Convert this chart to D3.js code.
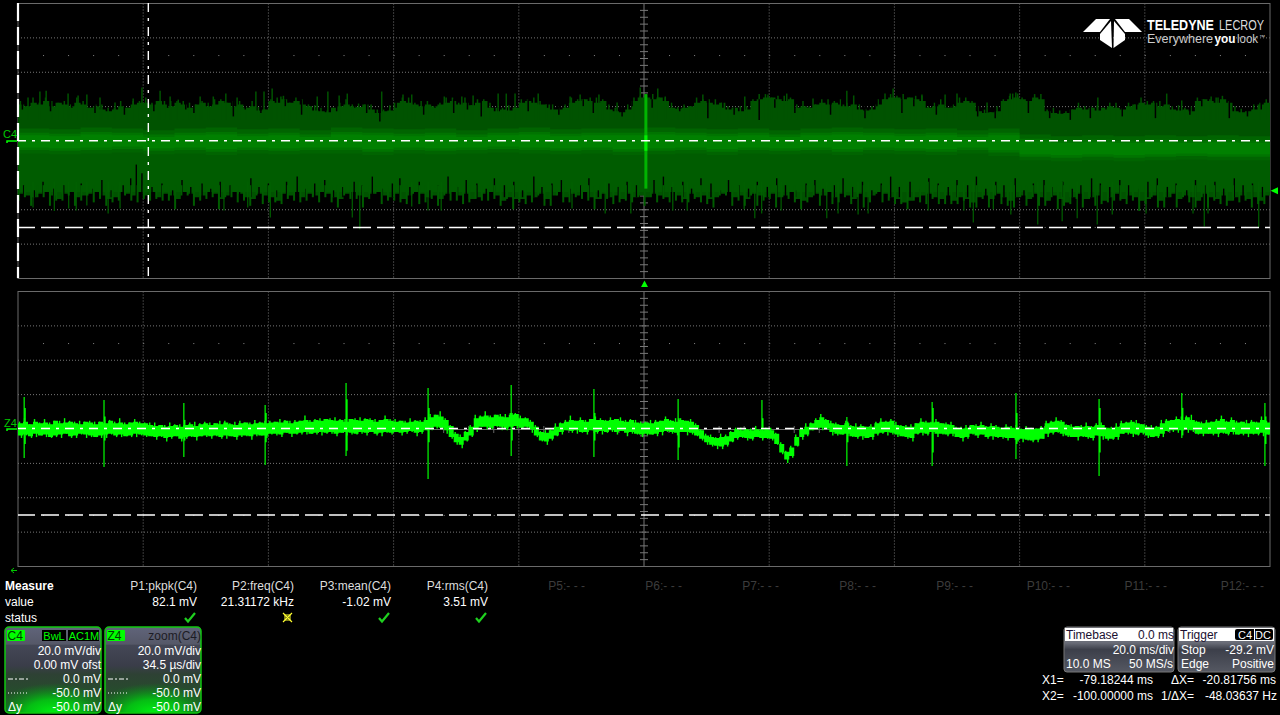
<!DOCTYPE html>
<html>
<head>
<meta charset="utf-8">
<style>
html,body{margin:0;padding:0;background:#000;overflow:hidden}
svg{display:block}
text{font-family:"Liberation Sans",Arial,sans-serif;font-size:12px}
</style>
<script src="https://cdn.jsdelivr.net/npm/d3@7"></script>
</head>
<body>
<div id="scope"></div>
<script>
// C4 envelope in mV, one sample per ms from -100 ms
var c4Hi = [
21,20,22,21,23,20,22,21,20,22,21,19,20,18,17,18,20,19,21,22,
22,21,23,21,20,22,21,19,21,22,20,21,23,22,20,21,19,20,17.5,18,
23,22,24,22,23,21,20,17.5,17,16.5,19,20,21,20,19.5,21,18,16,17,17.5,
22,23,22,21,20,21,20,21,22,23,21,22,20.5,22,23,19,17,18,17.5,19,
22,23,22,21,21,18,18,19,22,23,24,23,22,23,18,17,16.5,18,23,25,
25,24,25,23,19,18.5,19,20,22,23,22,21,22,18,19,17,18,23,24,25,
25,24,23,24,19,20,19,21,22,21,22,21,20,21,18,17.5,18,21,24,25,
25,24,25,24,23,19,20,21,19,20,22,23,22,17,16,16.5,17,23,24,25,
24,23,25,24,17,16,15.5,16,18,19,18,19,17.5,19,20,19,18,20,21,22,
21,22,20,21,18,17.5,18,17,23,24,23,22,24,22,17,16.5,17,18,21,22];
var c4Lo = [
-31,-32,-33,-31,-30,-32,-34,-31,-30,-33,-32,-31,-30,-32,-34,-33,-30,-31,-32,-30,
-32,-30,-33,-31,-32,-34,-30,-31,-33,-32,-30,-31,-34,-32,-30,-31,-33,-34,-31,-32,
-33,-35,-31,-32,-30,-33,-31,-32,-30,-31,-33,-34,-31,-30,-32,-33,-31,-30,-32,-33,
-31,-34,-32,-30,-31,-33,-32,-34,-31,-30,-32,-31,-34,-33,-31,-30,-32,-35,-33,-34,
-34,-32,-33,-31,-34,-32,-30,-33,-31,-32,-30,-33,-34,-31,-33,-32,-34,-31,-33,-32,
-33,-31,-32,-33,-30,-32,-34,-31,-33,-32,-34,-33,-31,-30,-33,-32,-34,-31,-32,-33,
-31,-33,-32,-30,-34,-35,-33,-31,-32,-30,-33,-31,-32,-34,-31,-33,-32,-30,-31,-33,
-34,-36,-35,-33,-32,-31,-33,-34,-32,-35,-33,-34,-36,-33,-32,-34,-31,-33,-35,-33,
-32,-34,-31,-33,-35,-32,-34,-36,-33,-31,-34,-33,-32,-35,-33,-31,-34,-32,-33,-35,
-34,-32,-35,-33,-31,-34,-32,-33,-35,-31,-33,-34,-32,-35,-33,-32,-34,-33,-35,-32];

// fine teeth on the C4 edges, height over the envelope, one per ms
var toothUp = [
2,0,3,1,2,3,0,2,1,3,2,0,1,3,2,1,3,0,2,1,
3,1,0,2,3,1,2,3,0,1,2,3,1,0,3,2,1,3,2,0,
1,3,2,0,2,3,1,3,2,1,0,2,3,1,2,0,3,2,1,3,
0,2,3,1,3,2,0,1,3,2,1,3,0,2,1,3,2,1,3,0,
2,1,3,2,0,3,1,2,3,1,0,2,3,1,3,2,0,3,2,1,
2,3,0,2,3,1,2,0,3,1,2,3,0,2,1,3,2,1,3,2,
0,2,3,1,2,3,1,0,2,3,1,3,2,0,3,1,2,3,0,2,
1,3,0,2,3,1,2,3,0,1,3,2,1,3,2,0,3,1,2,3,
1,0,2,3,1,3,2,1,0,3,2,1,3,0,2,3,1,2,0,3,
2,1,3,0,2,3,1,3,2,0,1,3,2,1,3,2,0,3,1,2];
var toothDown = [
4,1,5,2,3,6,1,4,2,5,3,1,6,2,4,3,5,1,3,6,
2,5,1,4,3,6,2,1,5,3,4,2,6,1,3,5,2,4,1,5,
3,1,6,2,5,3,4,1,6,2,3,5,1,4,2,6,3,1,5,2,
4,2,5,1,6,3,2,4,1,5,3,6,2,1,4,5,2,3,1,6,
2,5,3,1,4,6,2,3,5,1,4,2,6,3,1,5,2,4,3,1,
5,2,4,1,6,3,2,5,1,4,3,6,1,2,5,3,4,1,6,2,
3,6,1,4,2,5,3,1,6,2,4,5,1,3,2,6,4,1,5,2,
3,1,5,2,4,6,1,3,5,2,4,1,3,6,2,5,1,4,3,6,
1,4,2,5,3,1,6,2,4,3,5,1,6,2,3,4,1,5,2,6,
3,1,4,6,2,5,1,3,4,2,6,1,5,3,2,4,1,6,2,5];

// brighter core of the C4 band, one sample per 5 ms
var coreHi = [3,2.5,3.5,3,2,3,3.5,2.5,3,2,3.5,3,2.5,3,2,3,3.5,2.5,3,3,3.5,3,2.5,3,2,3,3.5,3,2.5,3,2,3,-0.5,-1.5,-1,-1.5,-1,-1.5,-1,-1.5];
var coreLo = [-4,-4.5,-4,-3.5,-4.5,-4,-5,-4,-4.5,-4,-4,-5,-4,-4.5,-4,-3.5,-4,-4.5,-4,-5,-4.5,-4,-5,-4,-4.5,-4,-5,-4,-4.5,-5,-4,-5.5,-8,-8.5,-8,-8.5,-8,-7.5,-8,-8];

// C4 needles above the band
var c4UpX = [-98.4,-96.5,-95.5,-92,-90.4,-89,-86.9,-84.5,-81.6,-80.2,-77.3,-75.7,-74.4,-70.9,-68.8,-66.8,-65,-62,-60.7,-59.4,-58,-52.2,-50.5,-48.7,-47.4,-41.9,-38.5,-37.1,-31.9,-29.1,-27.3,-23.3,-22,-20.6,-16.9,-11.8,-10.2,-7.2,-4.3,-0.6,2.2,3.4,9.4,16.1,19.8,22.8,27,32.4,33.5,38.5,39.8,44.4,48.1,50,54.8,58.5,58.9,59.7,62.1,72.5,83.5,85.9,90.6,91.7];
var c4UpV = [25,28.5,29,27.3,26.2,26.7,25,22.1,24.4,30.8,29,25.6,23.8,25.6,25.6,27.3,25,28.5,28.5,30.2,25.6,25.6,28.5,26.2,27.3,28.5,26.7,26.7,25.6,25.6,26.2,27.3,27.3,27.3,27.3,25.6,26.7,26.7,22.1,30.8,30.2,25.6,26.7,25.6,26.7,27.3,24.4,29,26.2,27.3,30.2,26.7,26.7,27.3,22.1,27.3,27.3,27.3,23.8,25,27.3,23.3,25.6,25];

// C4 needles below the band
var c4DownX = [-97.6,-94.2,-91.9,-90.7,-89,-85.6,-83.7,-67.1,-63.3,-59.7,-46.6,-45.4,-37.1,-34.5,-32.4,-11.5,-6.2,-2.1,4.6,6.9,16,17.7,18.8,21.9,29.2,31,34.2,35.8,45.4,51.1,52.6,55.8,58.6,62.9,66.8,69.2,72.4,74.8,80.2,87.7,89.5,90.1,98.2];
var c4DownV = [-39,-41,-39.5,-40.7,-37.8,-42.4,-39.5,-40.7,-39,-44.8,-44.8,-51.7,-38.4,-40.7,-40.7,-39.5,-42.4,-42.4,-40.7,-40.7,-40,-45.3,-42.4,-40.7,-45.3,-42.4,-43,-42.4,-40.7,-40.7,-47.7,-40,-43,-48.8,-47,-45.3,-48.8,-43,-42.4,-42.4,-50,-42.4,-50.6];

// black gaps cut into the lower edge
var notchLoX = [-99.1,-97.4,-96,-94.3,-92.7,-91.2,-89.9,-88,-86.6,-85.1,-83.2,-82,-81.1,-80.2,-78.6,-77,-75.3,-73.8,-72.4,-70.6,-69.2,-67.7,-66.1,-64.6,-62.8,-61.5,-60,-58.7,-57.1,-55.4,-54,-52.6,-51,-49.6,-48.1,-46.3,-45,-43.4,-41.8,-40.2,-39,-37.4,-35.9,-34.2,-32.9,-31.3,-29.8,-28.4,-26.7,-25.2,-23.9,-22.3,-20.8,-19.4,-17.6,-16.3,-14.7,-13.2,-11.8,-10.1,-8.8,-7.3,-5.6,-4.1,-2.7,-1.2,1.6,3.1,4.5,6.2,7.6,9.1,10.7,12.2,13.5,15.2,16.7,18.1,19.7,21.2,22.6,24.2,25.9,27.3,28.6,30.4,31.8,33.3,34.9,36.4,37.9,39.4,40.8,42.5,44.1,45.5,47,48.6,50,51.7,53.1,54.6,56.2,57.5,59.3,60.7,62.2,63.9,65.2,66.9,68.4,69.8,71.5,72.9,74.4,76,77.4,79.1,80.5,82,83.6,85,86.7,88.1,89.6,91.2,92.6,94.3,95.7,97.2,98.8];
var notchLoV = [-26,-29,-24,-28,-26,-30,-25,-28,-23,-29,-26,-22,-14,-19,-27,-25,-29,-23,-27,-25,-28,-24,-26,-30,-22,-27,-25,-29,-24,-21,-28,-25,-23,-29,-27,-24,-26,-21,-28,-25,-22,-27,-24,-29,-26,-21,-27,-23,-25,-28,-22,-26,-24,-29,-21,-27,-25,-23,-28,-26,-22,-29,-25,-27,-24,-26,-23,-21,-27,-24,-28,-22,-25,-29,-23,-26,-28,-24,-27,-22,-26,-29,-25,-23,-28,-26,-22,-27,-24,-29,-25,-21,-27,-24,-28,-22,-25,-27,-23,-26,-21,-28,-24,-26,-22,-29,-25,-23,-27,-24,-28,-26,-22,-25,-27,-23,-26,-28,-24,-22,-27,-25,-29,-23,-26,-24,-28,-22,-26,-25,-27,-24,-26,-23,-28];

// black gaps cut into the upper edge
var notchHiX = [-99.3,-94.8,-91.4,-87.7,-85.2,-83,-78.3,-76.1,-73.2,-71.9,-69.4,-65.6,-63.7,-61.2,-57.3,-54.7,-51.6,-49.1,-46.2,-44.3,-42.2,-39.6,-35.2,-33.4,-30.4,-28.2,-26,-21.3,-18.5,-15.4,-13.6,-9.7,-8.1,-3.5,-1.9,1.3,5.7,7.8,10.2,12.6,14.4,18.4,20.9,24.1,26.2,29.8,31.6,35.3,37.2,41.2,43.1,46.7,49.2,53.3,56.1,61.4,64.8,68.1,71.3,73.8,76.4,78.7,81.7,84.6,87.2,89.1,93.5,96.4,98.6];
var notchHiV = [18,17,19,16,20,15,17,19,18,16,20,14,18,16,20,15,19,17,19,16,11,19,15,19,16,18,14,20,17,19,15,20,16,14,20,19,17,20,13,19,15,12,19,16,20,15,20,13,20,16,20,15,19,14,13,16,13,12,13,18,14,18,13,19,15,20,13,14,18];

// Z4 zoom trace in mV, 25 samples per division
var z4Hi = [
3,4,2.5,4,3,3.5,2.5,4.5,3,3.5,4,3,2.5,4,3.5,2.5,4,3,4.5,3,3.5,2.5,3.5,4,3,
3,2,1.5,2,1,1.5,2,1,2,2.5,1.5,2.5,3,2,3,2.5,3.5,2.5,2,3,3.5,2.5,3,3.5,3,
3.5,4,3.5,4.5,3,4,4.5,5,4,5,4.5,5.5,5,4.5,5,4,5.5,5,4.5,5.5,5,4,5,5.5,4.5,
4,4.5,3.5,4,4.5,4,5,6.5,8,7,5,1.5,-3,-5,-2,1,6,7,7.5,6.5,8,7,6.5,8,8.5,
6,6,4,1,-2,-2.5,-1,1,3,4,5,4.5,5,4,5.5,5,5,4.5,5,5.5,4.5,4,5,3.5,3,
3.5,3,4,4.5,5.5,4.5,4,5,4.5,4,2,-1,-4,-5,-5.5,-5,-4.5,-2,-0.5,-1,-0.5,-1,-0.5,-1,-0.5,
-1,-3,-9,-13.5,-11,-5,-0.5,1,3,5,6.5,5,3,2.5,2,3,1.5,1,1.5,1,1,3,4,4,4.5,
2,1.5,1,1,3,4,3.5,3.5,4,3,2.5,2,0.5,0,0.5,2,1.5,2,1,1.5,1,0.5,1,0.5,0,
-0.5,0,-0.5,0,0.5,3,4,4.5,4,2,1,1.5,1,1.5,1,2,2,0.5,0,1,3,3.5,4,3,2.5,
1,0.5,1,3,4.5,5,5.5,5,6.5,5,4,3,3.5,4,4.5,5.5,4,5,3.5,4,3,4,3.5,5,3.5];
var z4Lo = [
-4,-3.5,-4.5,-3,-4,-3.5,-5,-4,-3.5,-3,-4.5,-4,-3,-3.5,-4,-5,-4,-3.5,-3,-4,-3.5,-4.5,-4,-3,-3.5,
-4,-4.5,-5,-4.5,-5.5,-5,-4.5,-6,-5,-4.5,-5,-4.5,-4,-4.5,-4,-5,-4,-4.5,-5,-4,-4,-4.5,-3.5,-4,-4,
-3,-3,-3.5,-2.5,-3,-3,-2.5,-2,-3,-2.5,-2,-2.5,-2,-3,-2.5,-2,-2.5,-3,-2,-2.5,-2,-3,-2.5,-2,-2.5,
-2,-2.5,-2,-1.5,-2.5,-2,-1,0.5,1,0.5,-1,-5,-8,-9.5,-7,-4,0,1,1,0.5,1.5,1,0,1,1.5,
0.5,1,-0.5,-4,-7,-7.5,-6,-4,-2,-1,-1.5,-1,-2,-2,-1,-2,-1.5,-2,-1,-2,-1.5,-2.5,-2,-3,-3.5,
-3,-3.5,-3,-2,-1.5,-2,-2.5,-2,-2,-2.5,-4,-6,-8,-9.5,-10,-10.5,-9.5,-7.5,-5.5,-5,-5.5,-6,-5,-5.5,-5.5,
-6,-9,-14,-18,-16,-10,-5,-3.5,-1,0.5,0.5,0,-2,-3,-3.5,-3,-4.5,-5,-4.5,-5.5,-5,-3,-2.5,-2,-2.5,
-3.5,-4.5,-5,-5.5,-3,-2.5,-3,-2,-3,-3,-3.5,-3,-5,-5.5,-5,-3,-4,-3.5,-5,-4.5,-5,-5,-5.5,-5.5,-6.5,
-6,-6.5,-7,-6.5,-6,-3,-2.5,-2,-3,-4,-5,-5,-4.5,-5,-5.5,-4,-4.5,-6,-6,-5,-3,-2.5,-3,-3.5,-2.5,
-4,-5,-4.5,-3,-1.5,-1,-1,-1,-0.5,-1,-3,-3,-3,-3,-3,-2.5,-3,-2,-3.5,-3,-3,-3,-3,-2.5,-3.5];

// noise on the Z4 edges, extra mV past the band, same samples
var z4FuzzUp = [
1,2,0,1.5,0.5,2,1,0,1.5,2.5,0.5,1,2,0,1,1.5,0,2,0.5,1,2.5,1,0,1.5,1,
0.5,1.5,2,0,1,2,0.5,1.5,0,1,2.5,0.5,1,1.5,0,2,1,0.5,2,1.5,0,1,2,0.5,1.5,
1,0,2,0.5,1.5,1,0,2.5,1,0.5,1.5,0,1,2,0.5,1.5,0,1,2,0.5,1,1.5,0,2,1,
1.5,0,1,2,0.5,1,1.5,2,0,3,1,0.5,1,1.5,0.5,1,2,0.5,2.5,1,0,1.5,2,1,0.5,
1.5,0.5,1,1,0.5,1.5,1,2,0.5,1,2.5,0,1.5,1,0,2,1,0.5,1.5,0,2,1,0.5,1.5,1,
0.5,2,1,0,1.5,0.5,2,1,0,1.5,1,0.5,1,1.5,0.5,2,1,0.5,1,1.5,0.5,1,2,0.5,1,
1.5,0.5,1,0.5,1,1.5,1,2,0.5,1,2,0.5,1.5,1,0,1.5,0.5,2,1,0,1.5,1,2,0.5,1,
2,0.5,1,1.5,0,2,1,0.5,1.5,0,1,2,0.5,1,1.5,0,1,2,0.5,1.5,1,0,1.5,1,2,
0.5,1.5,1,0,1,1.5,0.5,2,1,0.5,1.5,0,1,2,0.5,1,1.5,0,1,2,1.5,0.5,1,2,0,
1,1.5,0.5,2,1,0,1.5,2,1,3,0.5,1,1.5,0,1,2,0.5,1.5,1,0,2,1,0.5,2,1];
var z4FuzzDown = [
1.5,0.5,1,2,0,1.5,0.5,1,2,0,1,1.5,0.5,2,1,0,1.5,2,0.5,1,1.5,0,1,2,0.5,
1,0,1.5,0.5,2,1,0,1.5,1,0.5,2,0,1,1.5,0.5,1,2,0,1.5,1,0.5,2,1,0,1.5,
0.5,1,1.5,0,2,0.5,1,1.5,0,1,2,0.5,1,1.5,0,2,1,0.5,1,1.5,0,1,2,0.5,1,
0,1.5,1,0.5,2,1,0,1.5,1,0.5,2,1,1.5,2,0.5,1,2,0,1.5,1,0.5,2,1,0,1.5,
1,0.5,2,1,0.5,2,1,0.5,1.5,0,1,2,0.5,1.5,0,1,2,0.5,1,1.5,0,2,1,0.5,1.5,
1,0,1.5,2,0.5,1,1.5,0,2,1,0.5,1,1.5,1,2,1.5,1,0.5,1,0.5,1.5,1,0,1.5,0.5,
1,0.5,1,2,1,0.5,1.5,1,0,1,1.5,0.5,2,1,0,1.5,0.5,1,2,0,1.5,1,0.5,2,1,
1.5,0,1,2,0.5,1.5,1,0,2,0.5,1,1.5,0,2,1,0.5,1.5,0,1,2,0.5,1,1.5,0,1,
2,0.5,1,1.5,0,2,1,0.5,1.5,1,0,2,0.5,1,1.5,0,2,1,0.5,1.5,0,1,2,0.5,1,
1.5,0,1,2,0.5,1,1.5,0,2,1,0.5,1.5,0,1,2,0.5,1,1.5,0,1,2,0.5,1,2,0];

// Z4 glitches, x in us, tips in mV
var z4SpikeX = [-170.8,-148.8,-126.8,-104.4,-82.1,-59.5,-36.6,-13.8,9.4,32.5,55.9,79.4,102.5,125.4,148.2,171.1];
var z4SpikeUp = [18.3,16.6,14.8,13.7,26.5,23.5,25.3,23,17.2,16.6,6.7,15.4,20.6,17.2,20.6,14.8];
var z4SpikeDown = [-17.2,-22.4,-16.6,-21.2,-16,-29.4,-16,-16.6,-18.3,-5,-21.8,-21.8,-17.7,-27.6,-5.5,-21.8];
var z4StubUp = [12,7,5,9,17,12,9,9,6,6,4,12,9,12,12,7];
var z4StubDown = [-9,-7,-7,-8,-13,-8,-7,-7,-11,-6,-8,-14,-9,-14,-4,-9];

var tickLabels = {
  measureHead: ["P1:pkpk(C4)","P2:freq(C4)","P3:mean(C4)","P4:rms(C4)"],
  measureVal: ["82.1 mV","21.31172 kHz","-1.02 mV","3.51 mV"],
  idle: ["P5:- - -","P6:- - -","P7:- - -","P8:- - -","P9:- - -","P10:- - -","P11:- - -","P12:- - -"]
};
var c1Rows = ["20.0 mV/div","0.00 mV ofst","0.0 mV","-50.0 mV","-50.0 mV"];
var z4Rows = ["20.0 mV/div","34.5 µs/div","0.0 mV","-50.0 mV","-50.0 mV"];

var green = "#00ff00";
var svg = d3.select("#scope").append("svg").attr("width",1280).attr("height",715);
var defs = svg.append("defs");

var gradD = defs.append("linearGradient").attr("id","descr").attr("x1",0).attr("x2",0).attr("y1",0).attr("y2",1);
[[0,"#60647a"],[0.2,"#555868"],[0.21,"#444756"],[0.45,"#3a3d49"],[0.55,"#2e4134"],[1,"#1d5a24"]].forEach(function(s){
  gradD.append("stop").attr("offset",s[0]).attr("stop-color",s[1]);
});
var gradG = defs.append("radialGradient").attr("id","glow").attr("cx",0.5).attr("cy",1).attr("r",0.62);
[[0,"#00f010",1],[0.45,"#00d010",0.85],[1,"#00a010",0]].forEach(function(s){
  gradG.append("stop").attr("offset",s[0]).attr("stop-color",s[1]).attr("stop-opacity",s[2]);
});
var gradB = defs.append("linearGradient").attr("id","boxg").attr("x1",0).attr("x2",0).attr("y1",0).attr("y2",1);
[[0,"#6a6d78"],[0.35,"#6a6d78"],[0.5,"#3c3f4a"],[1,"#555862"]].forEach(function(s){
  gradB.append("stop").attr("offset",s[0]).attr("stop-color",s[1]);
});

function grid(top){
  var x = d3.scaleLinear().domain([0,10]).range([18,1270]);
  var y = d3.scaleLinear().domain([0,8]).range([top,top+275]);
  var g = svg.append("g");
  g.selectAll(".v").data(d3.range(1,10).filter(function(d){return d!=5})).enter().append("line")
    .attr("x1",x).attr("x2",x).attr("y1",top).attr("y2",top+275)
    .attr("stroke","#777").attr("stroke-dasharray","1,2");
  g.selectAll(".h").data(d3.range(1,8).filter(function(d){return d!=4})).enter().append("line")
    .attr("x1",18).attr("x2",1270).attr("y1",y).attr("y2",y)
    .attr("stroke","#777").attr("stroke-dasharray","1,2");
  // sparse dot rows
  [1.5,6.5].forEach(function(r){
    g.selectAll(null).data(d3.range(0.2,10,0.2)).enter().append("rect")
      .attr("x",function(d){return x(d)}).attr("y",y(r)).attr("width",1).attr("height",1).attr("fill","#888");
  });
  g.append("line").attr("x1",18).attr("x2",1270).attr("y1",y(4)+0.5).attr("y2",y(4)+0.5).attr("stroke","#666");
  g.append("line").attr("x1",x(5)).attr("x2",x(5)).attr("y1",top).attr("y2",top+275).attr("stroke","#777").attr("stroke-width",1);
  g.selectAll(null).data(d3.range(0.2,8,0.2)).enter().append("line")
    .attr("x1",x(5)-4).attr("x2",x(5)+4).attr("y1",y).attr("y2",y).attr("stroke","#777");
  g.selectAll(null).data(d3.range(0.2,10,0.2)).enter().append("line")
    .attr("x1",x).attr("x2",x).attr("y1",y(4)-3).attr("y2",y(4)+4).attr("stroke","#666");
  g.append("rect").attr("x",18).attr("y",top).attr("width",1252).attr("height",275)
    .attr("fill","none").attr("stroke","#6a6a6a").attr("stroke-width",1);
}
grid(3.5);
grid(291.5);

// top trace
var xTop = d3.scaleLinear().domain([-100,100]).range([18,1270]);
var yTop = d3.scaleLinear().domain([-80,80]).range([278,3]);
var ms = c4Hi.map(function(d,i){return i-100});
ms.push(100);
var darkBand = "#005300";

var env = d3.area().curve(d3.curveStepAfter)
  .x(function(d,i){return xTop(ms[i])})
  .y0(function(d,i){return yTop(c4Lo[Math.min(i,199)])})
  .y1(function(d,i){return yTop(c4Hi[Math.min(i,199)])});
svg.append("path").attr("d",env(ms)).attr("fill",darkBand);

// teeth past the envelope
svg.selectAll(".toothHi").data(c4Hi).enter().append("line")
  .attr("x1",function(d,i){return xTop(i-99.6)}).attr("x2",function(d,i){return xTop(i-99.6)})
  .attr("y1",function(d,i){return yTop(d+toothUp[i])}).attr("y2",yTop(12))
  .attr("stroke",darkBand).attr("stroke-width",1.5);
svg.selectAll(".upneedle").data(c4UpX).enter().append("line")
  .attr("x1",xTop).attr("x2",xTop)
  .attr("y1",function(d,i){return yTop(c4UpV[i])}).attr("y2",yTop(12))
  .attr("stroke",darkBand).attr("stroke-width",1.5);

svg.selectAll(".notchHi").data(notchHiX).enter().append("line")
  .attr("x1",xTop).attr("x2",xTop)
  .attr("y1",function(d,i){return yTop(notchHiV[i])}).attr("y2",yTop(24))
  .attr("stroke","#000").attr("stroke-width",1.5);

// lower half of the band is a little brighter
var coreMs = coreHi.map(function(d,i){return -100+i*5});
coreMs.push(100);
function band(top,bottom){
  return d3.area().curve(d3.curveStepAfter)
    .x(function(d){return xTop(d)})
    .y0(function(d,i){return yTop(bottom(Math.min(i,coreHi.length-1)))})
    .y1(function(d,i){return yTop(top(Math.min(i,coreHi.length-1)))})(coreMs);
}
svg.append("path").attr("fill","#005c00")
  .attr("d",band(function(i){return coreLo[i]},function(i){return -30}));
svg.append("path").attr("fill","#006400")
  .attr("d",band(function(i){return coreHi[i]+4},function(i){return coreLo[i]-3.5}));
svg.append("path").attr("fill","#007400")
  .attr("d",band(function(i){return coreHi[i]+1.5},function(i){return coreLo[i]-1.5}));
svg.append("path").attr("fill","#008000")
  .attr("d",band(function(i){return coreHi[i]},function(i){return coreLo[i]}));

// cuts in the lower edge and the needles going past it
svg.selectAll(".notchLo").data(notchLoX.slice(0,notchLoV.length)).enter().append("line")
  .attr("x1",xTop).attr("x2",xTop)
  .attr("y1",function(d,i){return yTop(notchLoV[i])}).attr("y2",yTop(-33))
  .attr("stroke","#000").attr("stroke-width",1.4);
svg.selectAll(".toothLo").data(c4Lo).enter().append("line")
  .attr("x1",function(d,i){return xTop(i-99.9)}).attr("x2",function(d,i){return xTop(i-99.9)})
  .attr("y1",yTop(-26)).attr("y2",function(d,i){return yTop(d-toothDown[i])})
  .attr("stroke","#005c00").attr("stroke-width",2);
svg.selectAll(".downneedle").data(c4DownX).enter().append("line")
  .attr("x1",xTop).attr("x2",xTop)
  .attr("y1",yTop(-24)).attr("y2",function(d,i){return yTop(c4DownV[i])})
  .attr("stroke","#006000").attr("stroke-width",1.2);

// trigger burst at the middle of the screen
svg.append("line").attr("x1",xTop(0.3)).attr("x2",xTop(0.3)).attr("y1",yTop(27)).attr("y2",yTop(-28))
  .attr("stroke","#00b400").attr("stroke-width",3);
svg.append("line").attr("x1",xTop(0.3)).attr("x2",xTop(0.3)).attr("y1",yTop(3)).attr("y2",yTop(-6))
  .attr("stroke","#00f000").attr("stroke-width",3);

// bottom zoom trace
var xBot = d3.scaleLinear().domain([-172.5,172.5]).range([18,1270]);
var yBot = d3.scaleLinear().domain([-80,80]).range([566,291]);
var us = z4Hi.map(function(d,i){return -172.5+i*345/z4Hi.length});
var step = 345/z4Hi.length;
var usEnd = us.concat([172.5]);
var zArea = d3.area().curve(d3.curveStepAfter)
  .x(function(d){return xBot(d)})
  .y0(function(d,i){return yBot(z4Lo[Math.min(i,z4Lo.length-1)])})
  .y1(function(d,i){return yBot(z4Hi[Math.min(i,z4Hi.length-1)])});
svg.append("path").attr("d",zArea(usEnd)).attr("fill",green);

svg.selectAll(".fuzzUp").data(us).enter().append("line")
  .attr("x1",function(d){return xBot(d+step*0.3)}).attr("x2",function(d){return xBot(d+step*0.3)})
  .attr("y1",function(d,i){return yBot(z4Hi[i]+z4FuzzUp[i])}).attr("y2",function(d,i){return yBot(z4Hi[i]-1)})
  .attr("stroke",green).attr("stroke-width",1.4);
svg.selectAll(".fuzzDown").data(us).enter().append("line")
  .attr("x1",function(d){return xBot(d+step*0.7)}).attr("x2",function(d){return xBot(d+step*0.7)})
  .attr("y1",function(d,i){return yBot(z4Lo[i]+1)}).attr("y2",function(d,i){return yBot(z4Lo[i]-z4FuzzDown[i])})
  .attr("stroke",green).attr("stroke-width",1.4);

svg.selectAll(".spike").data(z4SpikeX).enter().append("line")
  .attr("x1",xBot).attr("x2",xBot)
  .attr("y1",function(d,i){return yBot(z4SpikeUp[i])}).attr("y2",function(d,i){return yBot(z4SpikeDown[i])})
  .attr("stroke",green).attr("stroke-width",1.2);
svg.selectAll(".stub").data(z4SpikeX).enter().append("line")
  .attr("x1",function(d){return xBot(d)+0.8}).attr("x2",function(d){return xBot(d)+0.8})
  .attr("y1",function(d,i){return yBot(z4StubUp[i])}).attr("y2",function(d,i){return yBot(z4StubDown[i])})
  .attr("stroke",green).attr("stroke-width",1.6);

// cursors, 0 mV and -50 mV on both grids, X1 and X2 on the top one
function hCursor(y,dash){
  svg.append("line").attr("x1",18).attr("x2",1270).attr("y1",y).attr("y2",y)
    .attr("stroke","#fff").attr("stroke-width",1.5).attr("stroke-dasharray",dash).attr("stroke-dashoffset",1);
}
hCursor(yTop(0)+0.2,"9,6,3,6");
hCursor(yTop(-50)+1,"18,6");
hCursor(yBot(0),"9,6,3,6");
hCursor(yBot(-50)+0.5,"18,6");
svg.append("line").attr("x1",xTop(-79.18244)).attr("x2",xTop(-79.18244)).attr("y1",3).attr("y2",278)
  .attr("stroke","#fff").attr("stroke-width",1.4).attr("stroke-dasharray","9,6,3,6");
svg.append("line").attr("x1",xTop(-100)).attr("x2",xTop(-100)).attr("y1",3).attr("y2",278)
  .attr("stroke","#fff").attr("stroke-width",2.2).attr("stroke-dasharray","18,6");

// channel markers
function label(txt,x,y,anchor,fill,opt){
  var t = svg.append("text").attr("x",x).attr("y",y).attr("text-anchor",anchor||"start").attr("fill",fill||"#fff").text(txt);
  if(opt&&opt.size) t.style("font-size",opt.size+"px");
  if(opt&&opt.weight) t.style("font-weight",opt.weight);
  if(opt&&opt.len) t.attr("textLength",opt.len).attr("lengthAdjust","spacingAndGlyphs");
  return t;
}
label("C4",3,138,"start","#00c800",{size:11});
label("Z4",4,427,"start","#00c800",{size:11});
svg.append("path").attr("d","M7 143V141H17").attr("fill","none").attr("stroke",green).attr("stroke-width",1.5);
svg.append("path").attr("d","M7 431V429H17").attr("fill","none").attr("stroke",green).attr("stroke-width",1.5);
svg.append("path").attr("d","M644.5 280.5L648 287H641Z").attr("fill",green);
svg.append("path").attr("d","M1270.5 "+yTop(-29.2)+"L1278 "+(yTop(-29.2)-3.5)+"V"+(yTop(-29.2)+3.5)+"Z").attr("fill",green);
svg.append("path").attr("d","M11 570.5H17M11 570.5L14 568M11 570.5L14 573").attr("stroke","#00c800").attr("fill","none");

// logo
[[1083,32,1096,19,1110,19,1100,32],[1142,32,1129,19,1115,19,1125,32],
 [1100,34,1111,21,1112,48,1100,40],[1125,34,1114,21,1113.5,48,1125,40]].forEach(function(p){
  svg.append("polygon").attr("points",p.join(" ")).attr("fill","#fff");
});
label("TELEDYNE",1147,30,"start","#fff",{size:14,weight:"bold",len:67});
label("LECROY",1219,30,"start","#ddd",{size:14,len:45});
label("Everywhere",1147,43,"start","#ccc",{size:12,len:66});
label("you",1214.5,43,"start","#fff",{size:12,weight:"bold",len:21});
label("look",1237,43,"start","#ccc",{size:12,len:21});
label("™",1259,39,"start","#ccc",{size:6});

// measure table
label("Measure",5,590,"start","#fff",{weight:"bold"});
label("value",5,606);
label("status",5,622);
var pRight = [197,294,391,488];
tickLabels.measureHead.forEach(function(t,i){ label(t,pRight[i],590,"end","#ddd"); });
tickLabels.measureVal.forEach(function(t,i){ label(t,pRight[i],606,"end","#fff"); });
tickLabels.idle.forEach(function(t,i){ label(t,585+i*97,590,"end","#3c3c3c"); });
[190,481,384].forEach(function(x){
  svg.append("path").attr("d","M"+(x-5)+" 618L"+(x-2)+" 621.5L"+(x+5)+" 613").attr("fill","none").attr("stroke","#1fd01f").attr("stroke-width",2.2);
});
svg.append("path").attr("d","M283 613L292 622M292 613L283 622").attr("stroke","#ffff30").attr("stroke-width",1.2);
svg.append("rect").attr("x",285).attr("y",615).attr("width",5).attr("height",5).attr("fill","none").attr("stroke","#ffff30");

// channel descriptors
function descriptor(x,tag,rows,zoom){
  svg.append("rect").attr("x",x).attr("y",627).attr("width",96).attr("height",86).attr("rx",4)
    .attr("fill","url(#descr)");
  svg.append("rect").attr("x",x).attr("y",665).attr("width",96).attr("height",48).attr("rx",4)
    .attr("fill","url(#glow)");
  svg.append("rect").attr("x",x).attr("y",627).attr("width",96).attr("height",86).attr("rx",4)
    .attr("fill","none").attr("stroke","#10c810").attr("stroke-width",1.5);
  svg.append("rect").attr("x",x+2).attr("y",630).attr("width",18).attr("height",11).attr("rx",1).attr("fill",green);
  label(tag,x+2.5,640,"start","#003a00");
  var ry = [655,669,683,697,711];
  rows.forEach(function(t,i){ label(t,x+96,ry[i],"end","#fff"); });
  svg.append("line").attr("x1",x+3).attr("x2",x+24).attr("y1",679).attr("y2",679).attr("stroke","#fff").attr("stroke-dasharray","5,2,2,2");
  svg.append("line").attr("x1",x+3).attr("x2",x+24).attr("y1",693).attr("y2",693).attr("stroke","#fff").attr("stroke-dasharray","1,2");
  label("Δy",x+3,711,"start","#fff");
  if(zoom){
    label("zoom(C4)",x+96,640,"end","#1c1c24");
  } else {
    svg.append("rect").attr("x",x+37).attr("y",630).attr("width",24).attr("height",11).attr("fill","#000");
    svg.append("rect").attr("x",x+63).attr("y",630).attr("width",31).attr("height",11).attr("fill","#000");
    label("BwL",x+49,640,"middle",green,{size:11});
    label("AC1M",x+79,640,"middle",green,{size:11});
  }
}
descriptor(5,"C4",c1Rows,false);
descriptor(105,"Z4",z4Rows,true);

// timebase and trigger boxes
function infoBox(x,w,head,row2,row3){
  svg.append("rect").attr("x",x).attr("y",627).attr("width",w).attr("height",45).attr("rx",3)
    .attr("fill","url(#boxg)").attr("stroke","#777");
  svg.append("rect").attr("x",x+1).attr("y",628).attr("width",w-2).attr("height",13).attr("fill","#fff");
  label(head,x+2,639,"start","#1a1030");
  row2.forEach(function(r){ label(r[0],r[1],654,r[2],"#fff"); });
  row3.forEach(function(r){ label(r[0],r[1],668,r[2],"#fff"); });
}
infoBox(1064,110,"Timebase",[["20.0 ms/div",1174,"end"]],[["10.0 MS",1066,"start"],["50 MS/s",1173,"end"]]);
label("0.0 ms",1174,639,"end","#1a1030");
infoBox(1178,97,"Trigger",[["Stop",1181,"start"],["-29.2 mV",1274,"end"]],[["Edge",1181,"start"],["Positive",1274,"end"]]);
svg.append("rect").attr("x",1235).attr("y",629).attr("width",38).attr("height",11).attr("rx",2).attr("fill","#000");
label("C4",1245,639,"middle","#fff",{size:11});
label("DC",1263,639,"middle","#fff",{size:11});
svg.append("line").attr("x1",1254.5).attr("x2",1254.5).attr("y1",629).attr("y2",640).attr("stroke","#fff");

// cursor readout
label("X1=",1042,684,"start","#fff");
label("-79.18244 ms",1153,684,"end","#fff");
label("ΔX=",1194,684,"end","#fff");
label("-20.81756 ms",1276,684,"end","#fff");
label("X2=",1042,700,"start","#fff");
label("-100.00000 ms",1153,700,"end","#fff");
label("1/ΔX=",1194,700,"end","#fff");
label("-48.03637 Hz",1277,700,"end","#fff");
</script>
</body>
</html>
